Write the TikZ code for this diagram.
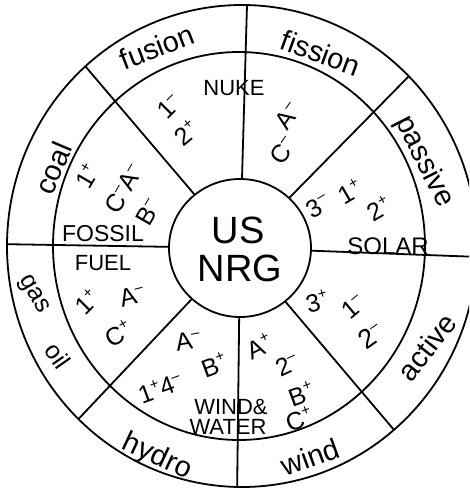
\documentclass[tikz,border=0pt]{standalone}
\usepackage{fontspec}
\setmainfont{Liberation Sans}
\newcommand{\supsign}[1]{\raisebox{0.42em}{\fontsize{15}{15}\selectfont#1}}
\begin{document}
\begin{tikzpicture}[x=1pt,y=-1pt,
  ring/.style={line width=1.8pt},
  outerlbl/.style={font=\fontsize{29}{29}\selectfont, inner sep=0pt},
  code/.style={font=\fontsize{25}{25}\selectfont, inner sep=0pt},
  caps/.style={font=\fontsize{22}{22}\selectfont, inner sep=0pt},
  big/.style={font=\fontsize{38}{38}\selectfont, inner sep=0pt}]
\useasboundingbox (0,0) rectangle (469,490);
\clip (0,0) rectangle (469,490);
% spokes, clipped to the outer ring
\begin{scope}
  \clip (242,246) ellipse [x radius=235, y radius=241];
  \coordinate (c) at (240,248);
  \coordinate (s1) at (247.3,-5);
  \coordinate (s2) at (80,60);
  \coordinate (s3) at (-5,244);
  \coordinate (s4) at (70,428);
  \coordinate (s5) at (237,500);
  \coordinate (s6) at (400,437);
  \coordinate (s7) at (480,257);
  \coordinate (s8) at (412,73);
  \foreach \s in {s1,s2,s3,s4,s5,s6,s7,s8} \draw[ring] (c) -- (\s);
\end{scope}
\draw[ring] (242,246) ellipse [x radius=235, y radius=241];
\draw[ring] (239,246) ellipse [x radius=186, y radius=194];
\draw[ring, fill=white] (240,248) ellipse [x radius=71, y radius=69];
% centre
\node[big] (us) at (238,230) {US};
\node[big] (nrg) at (240,268) {NRG};
% outer ring labels
\node[outerlbl, rotate=21] (fusion) at (157,47) {fusion};
\node[outerlbl, rotate=-20] (fission) at (321,53) {fission};
\node[outerlbl, rotate=-63] (passive) at (424,162) {passive};
\node[outerlbl, rotate=52] (active) at (427,347) {active};
\node[outerlbl, rotate=20] (wind) at (310,457) {wind};
\node[outerlbl, rotate=-25] (hydro) at (157,457) {hydro};
\node[outerlbl, rotate=-55, font=\fontsize{25}{25}\selectfont] (oil) at (58,356) {oil};
\node[outerlbl, rotate=-60, font=\fontsize{25}{25}\selectfont] (gas) at (33,295) {gas};
\node[outerlbl, rotate=67] (coal) at (53,168) {coal};
% NUKE sector
\node[code, font=\fontsize{22}{22}\selectfont] (nuke) at (234,88) {NUKE};
\node[code, rotate=45] (n1) at (169,107) {1\supsign{–}};
\node[code, rotate=40] (n2) at (186,133) {2\supsign{+}};
\node[code, rotate=55] (na) at (288,116) {A\supsign{–}};
\node[code, rotate=55] (nc) at (283,151) {C\supsign{–}};
% SOLAR sector
\node[code, rotate=30] (s3m) at (318,206) {3\supsign{–}};
\node[code, rotate=30] (s1p) at (350,192) {1\supsign{+}};
\node[code, rotate=30] (s2p) at (379,209) {2\supsign{+}};
\node[caps, font=\fontsize{24}{24}\selectfont] (solar) at (388,246) {SOLAR};
% active sector
\node[code, rotate=15] (a3) at (317,301) {3\supsign{+}};
\node[code, rotate=40] (a1) at (353,307) {1\supsign{–}};
\node[code, rotate=35, font=\fontsize{27}{27}\selectfont] (a2) at (371,336) {2\supsign{–}};
% wind sector
\node[code, rotate=25] (wa) at (259,346) {A\supsign{+}};
\node[code, rotate=25] (w2) at (287,365) {2\supsign{–}};
\node[code, rotate=20] (wb) at (301,394) {B\supsign{+}};
\node[code, rotate=20] (wc) at (299,419) {C\supsign{+}};
% hydro sector
\node[code, rotate=10] (ha) at (188,341) {A\supsign{–}};
\node[code, rotate=20] (hb) at (214,365) {B\supsign{+}};
\node[code, rotate=20] (h14) at (160,388) {1\supsign{+}4\supsign{–}};
\node[caps] (windand) at (231,407) {WIND\&};
\node[caps] (water) at (228,427) {WATER};
% fossil lower
\node[caps] (fuel) at (103,263) {FUEL};
\node[code, rotate=45] (f1) at (87,302) {1\supsign{+}};
\node[code, rotate=15] (fa) at (132,296) {A\supsign{–}};
\node[code, rotate=30] (fc) at (118,334) {C\supsign{+}};
% fossil upper
\node[caps, font=\fontsize{23}{23}\selectfont] (fossil) at (103,234) {FOSSIL};
\node[code, rotate=60] (u1) at (87,176) {1\supsign{+}};
\node[code, rotate=60] (uca) at (124,189) {C\supsign{–}A\supsign{–}};
\node[code, rotate=60] (ub) at (148,212) {B\supsign{–}};
\end{tikzpicture}
\end{document}
